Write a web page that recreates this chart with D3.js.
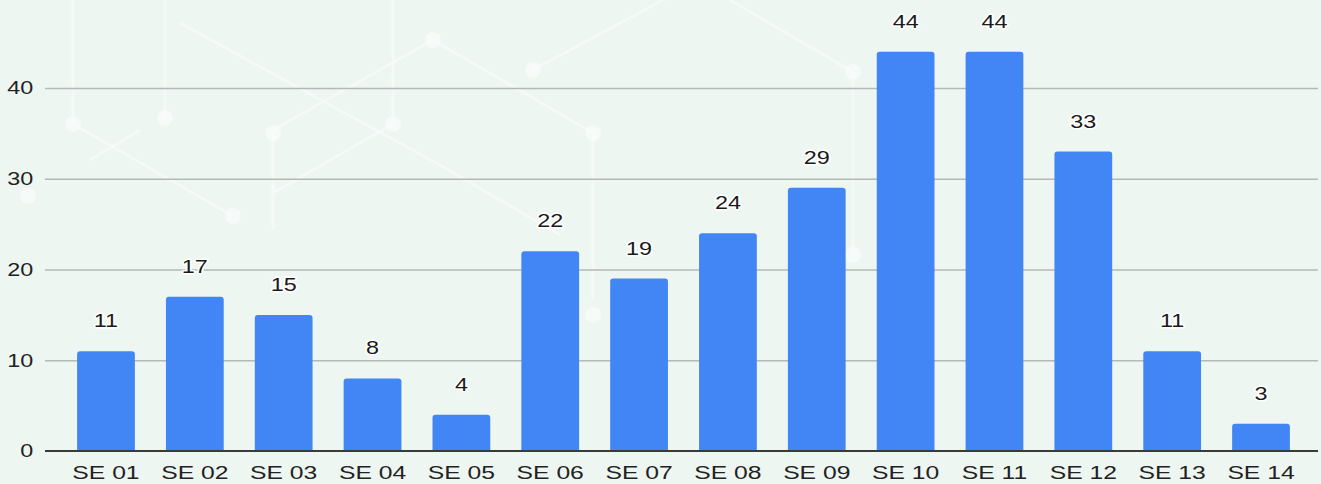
<!DOCTYPE html>
<html>
<head>
<meta charset="utf-8">
<script src="https://cdn.jsdelivr.net/npm/d3@7"></script>
<style>
  html, body { margin: 0; padding: 0; background: #eef6f2; }
  svg { display: block; font-family: "Liberation Sans", Arial, sans-serif; }
</style>
</head>
<body>
<div id="chart"></div>
<script>
// categories + values
const weeks = ['SE 01', 'SE 02', 'SE 03', 'SE 04', 'SE 05', 'SE 06', 'SE 07',
               'SE 08', 'SE 09', 'SE 10', 'SE 11', 'SE 12', 'SE 13', 'SE 14'];
const counts = [11, 17, 15, 8, 4, 22, 19, 24, 29, 44, 44, 33, 11, 3];
const yTicks = [0, 10, 20, 30, 40];

const width = 1321, height = 484;
const margin = { top: 10, right: 3, bottom: 33, left: 45 };
const stretch = 1.3; // glyphs in the picture are drawn wide

const svg = d3.select('#chart').append('svg')
  .attr('width', width).attr('height', height);

svg.append('rect').attr('width', width).attr('height', height).attr('fill', '#eef6f2');

// faint background decoration (network-like pattern)
const deco = svg.append('g').attr('stroke', '#ffffff').attr('stroke-opacity', 0.4)
  .attr('stroke-width', 3).attr('fill', 'none');
[[73, 0, 73, 124], [165, 0, 165, 118], [273, 133, 273, 230], [393, 0, 393, 124],
 [73, 124, 233, 216], [180, 23, 440, 165], [273, 193, 393, 124], [273, 130, 433, 40],
 [433, 40, 593, 133], [593, 133, 593, 300], [533, 70, 700, -20],
 [730, 0, 853, 72], [853, 72, 853, 255], [90, 160, 140, 130], [440, 165, 560, 235]]
  .forEach(([x1, y1, x2, y2]) => deco.append('line')
    .attr('x1', x1).attr('y1', y1).attr('x2', x2).attr('y2', y2));
[[73, 124], [165, 118], [273, 133], [393, 124], [233, 216], [433, 40], [533, 70],
 [593, 133], [853, 72], [28, 196], [853, 255], [593, 315]]
  .forEach(([cx, cy]) => svg.append('circle').attr('cx', cx).attr('cy', cy).attr('r', 8)
    .attr('fill', '#ffffff').attr('fill-opacity', 0.45));

const x = d3.scaleBand()
  .domain(weeks)
  .range([62, 1305])
  .paddingInner(0.35)
  .paddingOuter(0.17);

const y = d3.scaleLinear()
  .domain([0, 40])
  .range([451, 88]);

// grid lines
svg.append('g')
  .attr('transform', `translate(${margin.left},0)`)
  .call(d3.axisLeft(y).tickValues(yTicks.slice(1)).tickSize(-(width - margin.left - 3)).tickFormat(''))
  .call(g => g.select('.domain').remove())
  .call(g => g.selectAll('line').attr('stroke', '#b4b8b6').attr('stroke-width', 1.3));

// y tick labels
svg.append('g')
  .attr('transform', `translate(${margin.left},0)`)
  .call(d3.axisLeft(y).tickValues(yTicks).tickSize(0).tickPadding(9))
  .call(g => g.select('.domain').remove())
  .call(g => g.selectAll('text').attr('font-size', 18).attr('fill', '#222')
    .attr('font-family', '"Liberation Sans", Arial, sans-serif')
    .attr('transform', `scale(${stretch},1)`));

// bars
const r = 3;
svg.append('g').selectAll('path')
  .data(weeks)
  .join('path')
  .attr('fill', '#4285f4')
  .attr('d', (d, i) => {
    const x0 = x(d), w = x.bandwidth(), y0 = y(counts[i]), y1 = y(0);
    return `M${x0},${y1}V${y0 + r}Q${x0},${y0} ${x0 + r},${y0}H${x0 + w - r}Q${x0 + w},${y0} ${x0 + w},${y0 + r}V${y1}Z`;
  });

// baseline + category labels
svg.append('g')
  .attr('transform', `translate(0,${y(0)})`)
  .call(d3.axisBottom(x).tickSize(0).tickPadding(15))
  .call(g => g.select('.domain').attr('d', `M${margin.left},0H${width - 3}`)
    .attr('stroke', '#3a3a3a').attr('stroke-width', 2))
  .call(g => g.selectAll('text').attr('font-size', 19).attr('fill', '#222')
    .attr('font-family', '"Liberation Sans", Arial, sans-serif')
    .attr('transform', `scale(${stretch},1)`));

// value labels with white halo
svg.append('g').selectAll('text')
  .data(weeks)
  .join('text')
  .attr('transform', (d, i) =>
    `translate(${x(d) + x.bandwidth() / 2},${y(counts[i]) - 24}) scale(${stretch},1)`)
  .attr('text-anchor', 'middle')
  .attr('font-size', 18)
  .attr('fill', '#1a1a1a')
  .attr('stroke', '#ffffff')
  .attr('stroke-width', 3)
  .attr('paint-order', 'stroke')
  .attr('stroke-linejoin', 'round')
  .text((d, i) => counts[i]);
</script>
</body>
</html>
